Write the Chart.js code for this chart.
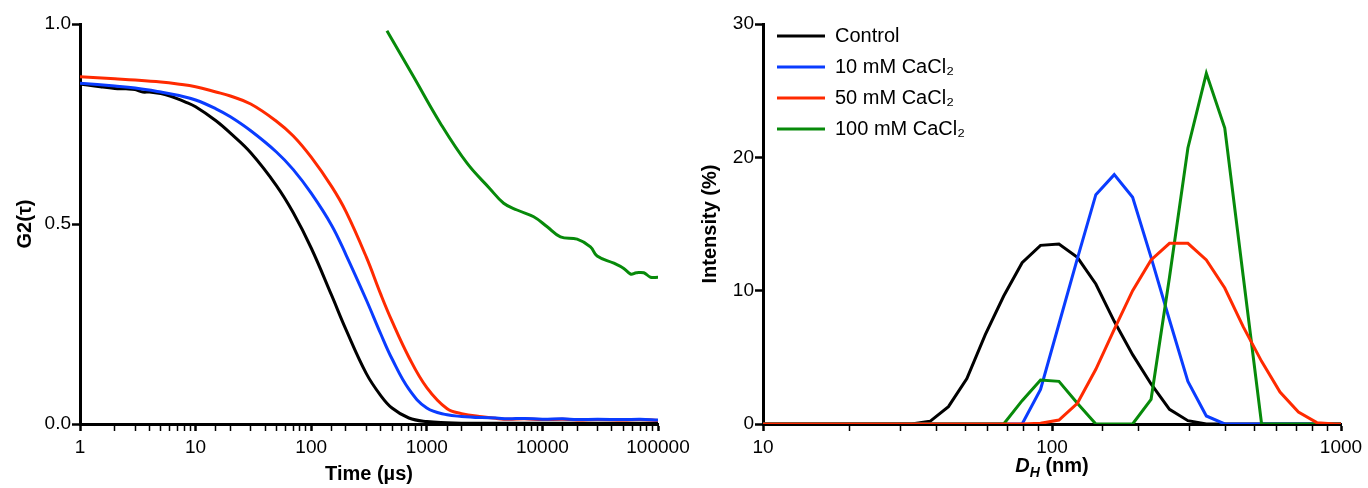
<!DOCTYPE html>
<html lang="en">
<head>
  <meta charset="UTF-8">
  <title>DLS correlation and size distribution</title>
  <script src="https://cdn.jsdelivr.net/npm/chart.js"></script>
  <style>
    body { margin: 0; background: #fff; }
    #wrap { position: relative; width: 1368px; height: 488px; }
    .pane { position: absolute; top: 0; }
    #dhTitle {
      position: absolute; left: 952px; top: 453px; width: 200px;
      text-align: center; font: bold 20px "Liberation Sans", Arial, sans-serif;
      line-height: 24px; color: #000;
    }
    #dhTitle sub { font-size: 14px; vertical-align: -5px; line-height: 0; }
  </style>
</head>
<body>
  <div id="wrap">
    <div class="pane" style="left:0"><canvas id="g2Chart" width="700" height="488"></canvas></div>
    <div class="pane" style="left:684px"><canvas id="sizeChart" width="684" height="488"></canvas></div>
    <div id="dhTitle"><i>D</i><sub><i>H</i></sub> (nm)</div>
  </div>

  <script>
    // ---- left panel: G2(tau) vs time (us)
    const timeTicks = [1, 10, 100, 1000, 10000, 100000];
    const g2Ticks = [0, 0.5, 1.0];

    const timeCtrl = [1, 1.5, 2, 2.5, 3, 3.5, 4, 5, 6, 7, 8, 10, 15, 20, 30, 50, 70, 100, 150, 200, 300, 400, 500, 700, 1000, 1500, 2000, 3000, 5000, 10000, 30000, 100000];
    const g2Ctrl = [0.850, 0.843, 0.839, 0.838, 0.836, 0.830, 0.830, 0.826, 0.820, 0.813, 0.806, 0.793, 0.758, 0.727, 0.678, 0.596, 0.528, 0.440, 0.322, 0.236, 0.126, 0.071, 0.040, 0.015, 0.006, 0.003, 0.002, 0.002, 0.002, 0.002, 0.002, 0.002];

    const timeCa = [1, 2, 3, 5, 7, 10, 15, 20, 30, 50, 70, 100, 150, 200, 300, 400, 500, 700, 1000, 1500, 2000, 3000, 4000, 5000, 7000, 10000, 15000, 20000, 30000, 50000, 70000, 100000];
    const g2Ca10 = [0.852, 0.845, 0.840, 0.830, 0.822, 0.810, 0.788, 0.768, 0.733, 0.680, 0.636, 0.577, 0.497, 0.423, 0.310, 0.225, 0.163, 0.087, 0.040, 0.023, 0.019, 0.016, 0.015, 0.013, 0.014, 0.012, 0.013, 0.011, 0.012, 0.011, 0.012, 0.010];
    const g2Ca50 = [0.868, 0.863, 0.860, 0.855, 0.850, 0.843, 0.830, 0.820, 0.800, 0.757, 0.720, 0.667, 0.594, 0.531, 0.417, 0.324, 0.257, 0.167, 0.091, 0.038, 0.026, 0.018, 0.014, 0.012, 0.013, 0.011, 0.012, 0.010, 0.011, 0.010, 0.011, 0.009];

    const timeCa100 = [452, 769, 1309, 2229, 3500, 4624, 6030, 8410, 11000, 14320, 19970, 26040, 29740, 41500, 50600, 57800, 65000, 75400, 86100, 100000];
    const g2Ca100 = [0.983, 0.868, 0.752, 0.652, 0.589, 0.552, 0.535, 0.518, 0.493, 0.468, 0.462, 0.443, 0.420, 0.402, 0.389, 0.375, 0.378, 0.378, 0.367, 0.367];

    // ---- right panel: intensity (%) vs hydrodynamic diameter (nm)
    const sizeTicks = [10, 100, 1000];
    const intensityTicks = [0, 10, 20, 30];
    const sizes = [8.721, 10.1, 11.7, 13.54, 15.69, 18.17, 21.04, 24.36, 28.21, 32.67, 37.84, 43.82, 50.75, 58.77, 68.06, 78.82, 91.28, 105.7, 122.4, 141.8, 164.2, 190.1, 220.2, 255, 295.3, 342, 396.1, 458.7, 531.2, 615.1, 712.4, 825, 955.4, 1106];
    const intCtrl  = [0, 0, 0, 0, 0, 0, 0, 0, 0, 0, 0.2, 1.3, 3.4, 6.7, 9.6, 12.1, 13.4, 13.5, 12.5, 10.5, 7.7, 5.2, 3.0, 1.1, 0.25, 0, 0, 0, 0, 0, 0, 0, 0, 0];
    const intCa10  = [0, 0, 0, 0, 0, 0, 0, 0, 0, 0, 0, 0, 0, 0, 0, 0, 2.6, 7.5, 12.4, 17.2, 18.7, 17.0, 12.5, 7.8, 3.2, 0.6, 0, 0, 0, 0, 0, 0, 0, 0];
    const intCa50  = [0, 0, 0, 0, 0, 0, 0, 0, 0, 0, 0, 0, 0, 0, 0, 0, 0.05, 0.3, 1.55, 4.1, 7.1, 10.0, 12.3, 13.55, 13.55, 12.3, 10.2, 7.3, 4.7, 2.4, 0.9, 0.1, 0, 0];
    const intCa100 = [0, 0, 0, 0, 0, 0, 0, 0, 0, 0, 0, 0, 0, 0, 0, 1.75, 3.3, 3.2, 1.55, 0, 0, 0, 1.85, 11.0, 20.7, 26.3, 22.2, 11.1, 0, 0, 0, 0, 0, 0];

    const seriesNames = ['Control', '10 mM CaCl\u2082', '50 mM CaCl\u2082', '100 mM CaCl\u2082'];
    const seriesColors = ['#000000', '#0a3cff', '#ff2a00', '#078a0a'];

    const FONT = '"Liberation Sans", Arial, Helvetica, sans-serif';
    Chart.defaults.color = '#000';
    Chart.defaults.font.family = FONT;

    function pts(xs, ys) {
      return xs.map((x, i) => ({x: x, y: ys[i]}));
    }

    function isDecade(list) {
      return v => list.some(t => Math.abs(t - v) < 1e-9 * t);
    }

    const tickFont = {family: FONT, size: 19};
    const titleFont = {family: FONT, size: 20, weight: 'bold'};

    function logAxis(min, max, labels, height, title) {
      const major = isDecade(labels);
      return {
        type: 'logarithmic', min: min, max: max,
        afterFit: s => { s.height = height; },
        border: {display: true, color: '#000', width: 3},
        grid: {
          drawOnChartArea: false, drawTicks: true, tickLength: 7, color: '#000',
          tickWidth: c => major(c.tick.value) ? 2.5 : 1.5
        },
        ticks: {
          autoSkip: false, maxRotation: 0, padding: 5, font: tickFont, color: '#000',
          callback: v => major(v) ? String(v) : ''
        },
        title: title
      };
    }

    function linAxis(max, step, width, fmt, titleText, titlePad) {
      return {
        type: 'linear', min: 0, max: max,
        afterFit: s => { s.width = width; },
        border: {display: true, color: '#000', width: 3},
        grid: {drawOnChartArea: false, drawTicks: true, tickLength: 8, tickWidth: 2.5, color: '#000'},
        ticks: {stepSize: step, padding: 1, font: tickFont, color: '#000', callback: fmt},
        title: {display: true, text: titleText, font: titleFont, color: '#000', padding: {top: titlePad, bottom: 0}}
      };
    }

    // left chart
    new Chart(document.getElementById('g2Chart'), {
      type: 'line',
      data: {
        datasets: [
          {label: seriesNames[0], data: pts(timeCtrl, g2Ctrl), borderColor: seriesColors[0], order: 2},
          {label: seriesNames[1], data: pts(timeCa, g2Ca10), borderColor: seriesColors[1], order: 0},
          {label: seriesNames[2], data: pts(timeCa, g2Ca50), borderColor: seriesColors[2], order: 1},
          {label: seriesNames[3], data: pts(timeCa100, g2Ca100), borderColor: seriesColors[3], order: 3}
        ]
      },
      options: {
        responsive: false,
        animation: false,
        layout: {padding: {top: 24, right: 42, left: 0, bottom: 0}},
        elements: {
          point: {radius: 0},
          line: {borderWidth: 3, fill: false, tension: 0.4}
        },
        plugins: {legend: {display: false}, tooltip: {enabled: false}},
        scales: {
          x: logAxis(1, 100000, timeTicks, 64,
            {display: true, text: 'Time (\u00b5s)', font: titleFont, color: '#000', padding: {top: 0, bottom: 2}}),
          y: linAxis(1, 0.5, 80, v => g2Ticks.includes(v) ? v.toFixed(1) : '', 'G2(\u03c4)', 13)
        }
      }
    });

    // right chart, legend sits inside the plot area
    const legendPlace = {
      id: 'legendPlace',
      afterLayout(chart) {
        const lg = chart.legend;
        const w = lg.right - lg.left, h = lg.bottom - lg.top;
        lg.left = chart.chartArea.left + 3;
        lg.top = chart.chartArea.top - 9;
        lg.right = lg.left + w;
        lg.bottom = lg.top + h;
      }
    };

    const intensitySets = [intCtrl, intCa10, intCa50, intCa100];
    new Chart(document.getElementById('sizeChart'), {
      type: 'line',
      data: {
        datasets: intensitySets.map((vals, i) => ({
          label: seriesNames[i],
          data: pts(sizes, vals),
          borderColor: seriesColors[i],
          backgroundColor: seriesColors[i],
          order: [3, 2, 0, 1][i]
        }))
      },
      options: {
        responsive: false,
        animation: false,
        layout: {padding: {top: 24, right: 27, left: 0, bottom: 0}},
        elements: {
          point: {radius: 0, borderWidth: 3},
          line: {borderWidth: 3, fill: false, tension: 0}
        },
        plugins: {
          tooltip: {enabled: false},
          legend: {
            position: 'chartArea',
            align: 'start',
            labels: {
              usePointStyle: true, pointStyle: 'line', pointStyleWidth: 48,
              padding: 11, font: {family: FONT, size: 20}, color: '#000',
              sort: (a, b) => a.datasetIndex - b.datasetIndex
            }
          }
        },
        scales: {
          x: logAxis(10, 1000, sizeTicks, 64, {display: false}),
          y: linAxis(30, 10, 79, v => intensityTicks.includes(v) ? String(v) : '', 'Intensity (%)', 14)
        }
      },
      plugins: [legendPlace]
    });
  </script>
</body>
</html>
